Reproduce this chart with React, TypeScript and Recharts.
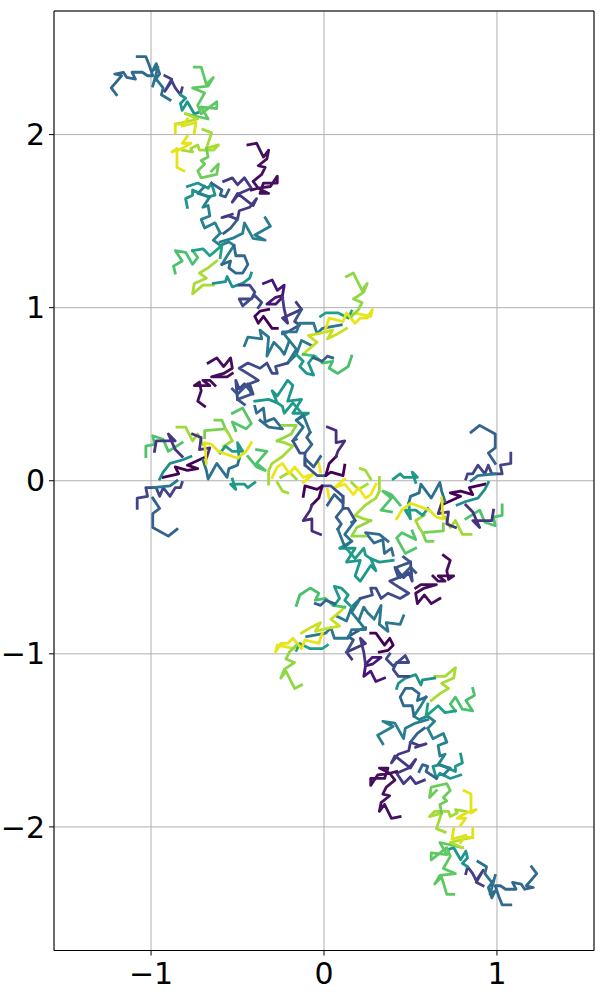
import { CartesianGrid, Line, LineChart, ReferenceLine, XAxis, YAxis } from "recharts"

const xTicks = [-1, 0, 1]
const yTicks = [-2, -1, 0, 1, 2]

// upper arm of the curve
const tailBlue = [[-1.2,2.23],[-1.23,2.27],[-1.17,2.34],[-1.21,2.35],[-1.16,2.36],[-1.14,2.33],[-1.09,2.32],[-1.11,2.36],[-1.05,2.36],[-1.02,2.34],[-0.99,2.34],[-1.01,2.4],[-1.03,2.45],[-1.08,2.45]]
const crownTeal = [[-0.99,2.28],[-0.96,2.39],[-0.99,2.37],[-0.97,2.41],[-0.95,2.35],[-0.98,2.31],[-0.97,2.32],[-0.93,2.27],[-0.94,2.23],[-0.89,2.2]]
const crownPurple = [[-0.92,2.34],[-0.88,2.32],[-0.92,2.25],[-0.88,2.31],[-0.86,2.27],[-0.83,2.23],[-0.82,2.27]]
const crownGreen = [[-0.83,2.23],[-0.8,2.21],[-0.83,2.18],[-0.82,2.14],[-0.79,2.19],[-0.75,2.12],[-0.72,2.13]]
const tipGreen = [[-0.75,2.39],[-0.71,2.39],[-0.68,2.29],[-0.64,2.33],[-0.67,2.28],[-0.76,2.27],[-0.69,2.24],[-0.73,2.17],[-0.71,2.12],[-0.62,2.19],[-0.62,2.15],[-0.71,2.16],[-0.67,2.09],[-0.8,2.12]]
const tipLime = [[-0.8,2.12],[-0.73,2.09],[-0.81,2.07],[-0.86,2.06]]
const tipYellow = [[-0.86,2.01],[-0.86,2.06],[-0.81,2.06],[-0.79,2.09]]
const tipYellowB = [[-0.75,2.01],[-0.74,2.07],[-0.82,2.05]]
const limeLower = [[-0.7,2.03],[-0.65,2.01],[-0.68,1.92],[-0.61,1.94],[-0.64,1.91],[-0.72,1.91],[-0.73,1.94],[-0.77,1.92],[-0.76,1.9],[-0.82,1.91]]
const yellowLower = [[-0.79,1.99],[-0.82,1.95],[-0.77,1.95],[-0.82,1.92],[-0.88,1.9],[-0.85,1.92],[-0.85,1.81],[-0.81,1.79]]
const greenLower = [[-0.68,1.92],[-0.67,1.87],[-0.71,1.85],[-0.69,1.83],[-0.73,1.79],[-0.71,1.75],[-0.62,1.77],[-0.61,1.83],[-0.65,1.79]]
const tealOne = [[-0.79,1.7],[-0.73,1.72],[-0.67,1.69],[-0.65,1.72],[-0.63,1.65],[-0.67,1.64],[-0.76,1.68],[-0.76,1.65],[-0.8,1.63],[-0.79,1.58]]
const tealTwo = [[-0.69,1.7],[-0.73,1.66],[-0.66,1.64],[-0.7,1.58],[-0.67,1.59],[-0.66,1.53],[-0.71,1.51],[-0.69,1.46],[-0.63,1.49],[-0.6,1.43]]
const blueBridge = [[-0.65,1.72],[-0.59,1.68],[-0.6,1.65],[-0.57,1.64],[-0.55,1.68]]
const indigoBridge = [[-0.58,1.73],[-0.53,1.75],[-0.5,1.71],[-0.46,1.75],[-0.42,1.69],[-0.49,1.66],[-0.53,1.61],[-0.5,1.66],[-0.41,1.59],[-0.39,1.63],[-0.43,1.58],[-0.49,1.56],[-0.5,1.51],[-0.55,1.53],[-0.59,1.52],[-0.53,1.54]]
const blueDrop = [[-0.5,1.51],[-0.54,1.46],[-0.58,1.43]]
const purpleTop = [[-0.44,1.94],[-0.39,1.95],[-0.35,1.87],[-0.32,1.91],[-0.33,1.86],[-0.38,1.82],[-0.34,1.81],[-0.36,1.77],[-0.41,1.73],[-0.38,1.69],[-0.31,1.7],[-0.27,1.76],[-0.27,1.72],[-0.35,1.72],[-0.37,1.66],[-0.32,1.66],[-0.38,1.69],[-0.42,1.68]]
const tealRight = [[-0.34,1.52],[-0.31,1.47],[-0.4,1.42],[-0.34,1.39],[-0.41,1.4],[-0.46,1.49],[-0.47,1.43],[-0.53,1.4],[-0.6,1.38]]
const linkTeal = [[-0.6,1.43],[-0.64,1.39],[-0.6,1.36],[-0.55,1.38],[-0.52,1.36],[-0.56,1.3],[-0.59,1.25]]
const greenWest = [[-0.86,1.2],[-0.87,1.24],[-0.82,1.27],[-0.86,1.33],[-0.8,1.32],[-0.76,1.25],[-0.73,1.29],[-0.76,1.33]]
const tealWest = [[-0.76,1.33],[-0.7,1.34],[-0.66,1.3],[-0.59,1.36],[-0.6,1.29]]
const blueWest = [[-0.59,1.25],[-0.54,1.27],[-0.55,1.23],[-0.51,1.2],[-0.47,1.2],[-0.44,1.25],[-0.46,1.3],[-0.51,1.3],[-0.52,1.36]]
const limeWest = [[-0.62,1.27],[-0.67,1.23],[-0.72,1.2],[-0.68,1.17],[-0.75,1.14],[-0.76,1.08],[-0.7,1.13],[-0.64,1.13]]
const tealNeck = [[-0.64,1.14],[-0.57,1.15],[-0.56,1.18],[-0.53,1.12],[-0.47,1.14],[-0.43,1.17],[-0.42,1.2]]
const blueNeck = [[-0.49,1.13],[-0.43,1.13],[-0.4,1.09],[-0.42,1.05],[-0.49,1.05],[-0.47,1.01],[-0.4,1.07],[-0.36,1.03],[-0.38,1]]
const purpleNeck = [[-0.35,1.14],[-0.3,1.16],[-0.27,1.1],[-0.23,1.13],[-0.24,1.07],[-0.28,1.06],[-0.33,1.02],[-0.28,1.02],[-0.24,1.06]]
const indigoNeck = [[-0.24,1.06],[-0.23,0.99],[-0.21,0.91],[-0.24,0.94],[-0.13,0.99],[-0.16,1.03]]
const purpleHook = [[-0.32,0.99],[-0.37,0.98],[-0.4,0.95],[-0.38,0.91],[-0.35,0.95],[-0.3,0.88],[-0.27,0.88]]
const blueHook = [[-0.13,0.99],[-0.17,0.92],[-0.14,0.9],[-0.21,0.86],[-0.24,0.85]]
const tealMid = [[-0.46,0.78],[-0.44,0.83],[-0.36,0.82],[-0.37,0.87],[-0.32,0.83],[-0.33,0.72],[-0.29,0.8],[-0.25,0.76],[-0.23,0.73],[-0.2,0.81],[-0.24,0.86],[-0.16,0.86],[-0.14,0.91],[-0.06,0.91],[-0.04,0.85],[-0.01,0.88],[0.1,0.9]]
const midLink = [[-0.2,0.81],[-0.16,0.76],[-0.21,0.68],[-0.16,0.73],[-0.13,0.81],[-0.07,0.78]]
const greenEast = [[-0.02,0.95],[0.01,0.97],[0.08,0.97],[0.14,0.94],[0.16,0.98]]
const yellowEast = [[0.01,0.88],[0.03,0.94],[0.11,0.92],[0.13,0.97],[0.18,0.91],[0.21,0.94],[0.25,0.94],[0.28,0.99],[0.27,0.95],[0.17,0.97]]
const limeTip = [[0.13,1.18],[0.17,1.2],[0.22,1.1],[0.25,1.14],[0.23,1.09],[0.17,1.05],[0.22,1.03],[0.2,0.99],[0.16,0.95]]
const limeLow = [[0.13,0.88],[0.08,0.85],[0.02,0.82],[0.05,0.87],[-0.03,0.85],[-0.09,0.84],[-0.04,0.8],[-0.1,0.75],[-0.12,0.73]]
const greenLow = [[-0.12,0.73],[-0.05,0.72],[-0.01,0.68],[0.05,0.69],[0.03,0.65],[0.08,0.62],[0.14,0.66],[0.16,0.72]]
const tealLow = [[-0.16,0.73],[-0.12,0.69],[-0.14,0.66],[-0.1,0.62],[-0.06,0.61],[-0.09,0.68],[-0.06,0.72]]
const blueLow = [[-0.06,0.71],[-0.01,0.69],[0.02,0.72],[0.05,0.71]]
const blueLeft = [[-0.21,0.68],[-0.28,0.66],[-0.27,0.62],[-0.3,0.62],[-0.33,0.68],[-0.37,0.65],[-0.44,0.68],[-0.49,0.65],[-0.41,0.6],[-0.38,0.58],[-0.43,0.56],[-0.41,0.5],[-0.46,0.56],[-0.49,0.53],[-0.51,0.58],[-0.5,0.47]]
const purpleLow = [[-0.67,0.68],[-0.62,0.71],[-0.58,0.66],[-0.54,0.71],[-0.53,0.65],[-0.58,0.62],[-0.65,0.6],[-0.56,0.6],[-0.53,0.62]]
const purpleEnd = [[-0.63,0.55],[-0.66,0.58],[-0.7,0.58],[-0.66,0.55],[-0.75,0.55],[-0.72,0.57],[-0.71,0.52],[-0.73,0.46],[-0.69,0.43]]
const blueCluster = [[-0.53,0.53],[-0.5,0.5],[-0.44,0.56],[-0.42,0.5],[-0.5,0.47],[-0.46,0.44]]
const tealCluster = [[-0.4,0.46],[-0.32,0.47],[-0.27,0.45],[-0.3,0.52],[-0.27,0.49],[-0.21,0.58],[-0.18,0.55],[-0.21,0.46],[-0.13,0.47],[-0.18,0.39],[-0.09,0.39],[-0.16,0.35]]
const blueKnot = [[-0.4,0.43],[-0.39,0.39],[-0.35,0.42],[-0.34,0.34],[-0.29,0.36],[-0.24,0.3],[-0.32,0.31],[-0.37,0.35]]
const tealKnot = [[-0.27,0.45],[-0.24,0.43],[-0.23,0.39],[-0.18,0.45],[-0.12,0.38]]
const greenArc = [[-0.53,0.39],[-0.47,0.42],[-0.42,0.33],[-0.45,0.3],[-0.53,0.34],[-0.51,0.29]]
const greenArcB = [[-0.63,0.35],[-0.59,0.35],[-0.57,0.3],[-0.69,0.29],[-0.69,0.25]]
const limeArc = [[-0.85,0.31],[-0.8,0.31],[-0.76,0.23],[-0.73,0.27],[-0.7,0.21]]
const limeArcB = [[-0.57,0.3],[-0.55,0.27],[-0.53,0.23],[-0.58,0.2]]
const greenFar = [[-1.03,0.14],[-1.03,0.2],[-0.98,0.21],[-0.99,0.26],[-0.93,0.24],[-0.9,0.17],[-0.82,0.22]]
const indigoFar = [[-0.98,0.17],[-0.97,0.23],[-0.86,0.23],[-0.9,0.27],[-0.86,0.18],[-0.82,0.14]]
const indigoFarB = [[-0.76,0.27],[-0.71,0.25],[-0.72,0.18],[-0.66,0.19],[-0.68,0.13]]
const darkFar = [[-0.68,0.14],[-0.79,0.09],[-0.73,0.07],[-0.79,0.06],[-0.86,0.08],[-0.84,0.04],[-0.93,0.02]]
const tealFar = [[-0.95,0.01],[-0.93,0.05],[-0.89,0.1],[-0.82,0.12],[-0.77,0.14]]
const indigoEdge = [[-1.08,-0.16],[-1.08,-0.1],[-1.02,-0.09],[-1.03,-0.04],[-0.97,-0.04],[-0.95,-0.09],[-0.93,-0.04],[-0.89,-0.09],[-0.86,-0.04],[-0.83,-0.04],[-0.82,-0.01]]
const blueEdge = [[-0.99,-0.1],[-0.95,-0.16],[-0.99,-0.19],[-0.99,-0.27],[-0.9,-0.32],[-0.85,-0.28]]
const tealEdge = [[-0.99,-0.04],[-0.89,-0.03],[-0.85,0]]
const tealSouth = [[-0.7,0.12],[-0.68,0.06],[-0.67,0.01],[-0.62,0.1],[-0.56,0.02],[-0.55,0.07],[-0.5,0.09],[-0.49,0.13]]
const tealSouthB = [[-0.49,0.13],[-0.5,0.22],[-0.47,0.17],[-0.53,0.17],[-0.57,0.2],[-0.6,0.16]]
const tealSouthC = [[-0.53,0.01],[-0.51,-0.05],[-0.54,-0.02],[-0.46,-0.02],[-0.44,-0.04],[-0.4,-0.01]]
const greenSouth = [[-0.44,0.14],[-0.39,0.08],[-0.34,0.06],[-0.39,0.1],[-0.33,0.17],[-0.39,0.18]]
const yellowSouth = [[-0.68,0.1],[-0.69,0.22],[-0.65,0.21],[-0.61,0.17],[-0.5,0.13],[-0.45,0.17],[-0.42,0.22]]
const limeCore = [[-0.27,0.23],[-0.23,0.22],[-0.18,0.2],[-0.24,0.14],[-0.3,0.1],[-0.32,0.06],[-0.32,-0.02]]
const limeCoreB = [[-0.27,-0.01],[-0.24,-0.06],[-0.21,-0.07]]
const limeCoreC = [[-0.25,0.02],[-0.2,0.05],[-0.16,0.01]]
const limeCoreD = [[-0.24,0.32],[-0.16,0.32],[-0.19,0.27],[-0.27,0.23]]
const yellowCore = [[-0.3,0.02],[-0.27,0.08],[-0.24,0.1],[-0.2,0.04],[-0.17,0.08],[-0.12,0.02],[-0.06,0.04],[-0.12,-0.01]]
const yellowCoreB = [[-0.03,0.1],[-0.02,0.05]]
const darkCore = [[-0.12,-0.09],[-0.11,-0.03],[-0.04,-0.05],[-0.01,-0.03],[-0.03,-0.1],[-0.07,-0.14]]
const indigoCore = [[-0.07,-0.14],[-0.08,-0.17],[-0.12,-0.23],[-0.07,-0.22],[-0.07,-0.29],[-0.02,-0.31]]
const blueCore = [[-0.11,0.09],[-0.11,0.13],[-0.06,0.08],[-0.02,0.14]]
const blueCoreB = [[-0.11,0.16],[-0.07,0.21],[-0.1,0.25],[-0.08,0.28]]
const tealCore = [[-0.16,0.24],[-0.18,0.23],[-0.12,0.31],[-0.16,0.35],[-0.12,0.38],[-0.08,0.28]]
const coreLink = [[-0.18,0.23],[-0.14,0.16],[-0.11,0.16],[-0.11,0.09],[-0.04,0.03],[0.01,0.03]]

// lower arm
const tailBlueB = [[1.2,-2.23],[1.23,-2.27],[1.17,-2.34],[1.21,-2.35],[1.16,-2.36],[1.14,-2.33],[1.09,-2.32],[1.11,-2.36],[1.05,-2.36],[1.02,-2.34],[0.99,-2.34],[1.01,-2.4],[1.03,-2.45],[1.08,-2.45]]
const crownTealB = [[0.99,-2.28],[0.96,-2.39],[0.99,-2.37],[0.97,-2.41],[0.95,-2.35],[0.98,-2.31],[0.97,-2.32],[0.93,-2.27],[0.94,-2.23],[0.89,-2.2]]
const crownPurpleB = [[0.92,-2.34],[0.88,-2.32],[0.92,-2.25],[0.88,-2.31],[0.86,-2.27],[0.83,-2.23],[0.82,-2.27]]
const crownGreenB = [[0.83,-2.23],[0.8,-2.21],[0.83,-2.18],[0.82,-2.14],[0.79,-2.19],[0.75,-2.12],[0.72,-2.13]]
const tipGreenB = [[0.75,-2.39],[0.71,-2.39],[0.68,-2.29],[0.64,-2.33],[0.67,-2.28],[0.76,-2.27],[0.69,-2.24],[0.73,-2.17],[0.71,-2.12],[0.62,-2.19],[0.62,-2.15],[0.71,-2.16],[0.67,-2.09],[0.8,-2.12]]
const tipLimeB = [[0.8,-2.12],[0.73,-2.09],[0.81,-2.07],[0.86,-2.06]]
const tipYellowC = [[0.86,-2.01],[0.86,-2.06],[0.81,-2.06],[0.79,-2.09]]
const tipYellowD = [[0.75,-2.01],[0.74,-2.07],[0.82,-2.05]]
const limeLowerB = [[0.7,-2.03],[0.65,-2.01],[0.68,-1.92],[0.61,-1.94],[0.64,-1.91],[0.72,-1.91],[0.73,-1.94],[0.77,-1.92],[0.76,-1.9],[0.82,-1.91]]
const yellowLowerB = [[0.79,-1.99],[0.82,-1.95],[0.77,-1.95],[0.82,-1.92],[0.88,-1.9],[0.85,-1.92],[0.85,-1.81],[0.81,-1.79]]
const greenLowerB = [[0.68,-1.92],[0.67,-1.87],[0.71,-1.85],[0.69,-1.83],[0.73,-1.79],[0.71,-1.75],[0.62,-1.77],[0.61,-1.83],[0.65,-1.79]]
const tealOneB = [[0.79,-1.7],[0.73,-1.72],[0.67,-1.69],[0.65,-1.72],[0.63,-1.65],[0.67,-1.64],[0.76,-1.68],[0.76,-1.65],[0.8,-1.63],[0.79,-1.58]]
const tealTwoB = [[0.69,-1.7],[0.73,-1.66],[0.66,-1.64],[0.7,-1.58],[0.67,-1.59],[0.66,-1.53],[0.71,-1.51],[0.69,-1.46],[0.63,-1.49],[0.6,-1.43]]
const blueBridgeB = [[0.65,-1.72],[0.59,-1.68],[0.6,-1.65],[0.57,-1.64],[0.55,-1.68]]
const indigoBridgeB = [[0.58,-1.73],[0.53,-1.75],[0.5,-1.71],[0.46,-1.75],[0.42,-1.69],[0.49,-1.66],[0.53,-1.61],[0.5,-1.66],[0.41,-1.59],[0.39,-1.63],[0.43,-1.58],[0.49,-1.56],[0.5,-1.51],[0.55,-1.53],[0.59,-1.52],[0.53,-1.54]]
const blueDropB = [[0.5,-1.51],[0.54,-1.46],[0.58,-1.43]]
const purpleTopB = [[0.44,-1.94],[0.39,-1.95],[0.35,-1.87],[0.32,-1.91],[0.33,-1.86],[0.38,-1.82],[0.34,-1.81],[0.36,-1.77],[0.41,-1.73],[0.38,-1.69],[0.31,-1.7],[0.27,-1.76],[0.27,-1.72],[0.35,-1.72],[0.37,-1.66],[0.32,-1.66],[0.38,-1.69],[0.42,-1.68]]
const tealRightB = [[0.34,-1.52],[0.31,-1.47],[0.4,-1.42],[0.34,-1.39],[0.41,-1.4],[0.46,-1.49],[0.47,-1.43],[0.53,-1.4],[0.6,-1.38]]
const linkTealB = [[0.6,-1.43],[0.64,-1.39],[0.6,-1.36],[0.55,-1.38],[0.52,-1.36],[0.56,-1.3],[0.59,-1.25]]
const greenWestB = [[0.86,-1.2],[0.87,-1.24],[0.82,-1.27],[0.86,-1.33],[0.8,-1.32],[0.76,-1.25],[0.73,-1.29],[0.76,-1.33]]
const tealWestB = [[0.76,-1.33],[0.7,-1.34],[0.66,-1.3],[0.59,-1.36],[0.6,-1.29]]
const blueWestB = [[0.59,-1.25],[0.54,-1.27],[0.55,-1.23],[0.51,-1.2],[0.47,-1.2],[0.44,-1.25],[0.46,-1.3],[0.51,-1.3],[0.52,-1.36]]
const limeWestB = [[0.62,-1.27],[0.67,-1.23],[0.72,-1.2],[0.68,-1.17],[0.75,-1.14],[0.76,-1.08],[0.7,-1.13],[0.64,-1.13]]
const tealNeckB = [[0.64,-1.14],[0.57,-1.15],[0.56,-1.18],[0.53,-1.12],[0.47,-1.14],[0.43,-1.17],[0.42,-1.2]]
const blueNeckB = [[0.49,-1.13],[0.43,-1.13],[0.4,-1.09],[0.42,-1.05],[0.49,-1.05],[0.47,-1.01],[0.4,-1.07],[0.36,-1.03],[0.38,-1]]
const purpleNeckB = [[0.35,-1.14],[0.3,-1.16],[0.27,-1.1],[0.23,-1.13],[0.24,-1.07],[0.28,-1.06],[0.33,-1.02],[0.28,-1.02],[0.24,-1.06]]
const indigoNeckB = [[0.24,-1.06],[0.23,-0.99],[0.21,-0.91],[0.24,-0.94],[0.13,-0.99],[0.16,-1.03]]
const purpleHookB = [[0.32,-0.99],[0.37,-0.98],[0.4,-0.95],[0.38,-0.91],[0.35,-0.95],[0.3,-0.88],[0.27,-0.88]]
const blueHookB = [[0.13,-0.99],[0.17,-0.92],[0.14,-0.9],[0.21,-0.86],[0.24,-0.85]]
const tealMidB = [[0.46,-0.78],[0.44,-0.83],[0.36,-0.82],[0.37,-0.87],[0.32,-0.83],[0.33,-0.72],[0.29,-0.8],[0.25,-0.76],[0.23,-0.73],[0.2,-0.81],[0.24,-0.86],[0.16,-0.86],[0.14,-0.91],[0.06,-0.91],[0.04,-0.85],[0.01,-0.88],[-0.1,-0.9]]
const midLinkB = [[0.2,-0.81],[0.16,-0.76],[0.21,-0.68],[0.16,-0.73],[0.13,-0.81],[0.07,-0.78]]
const greenEastB = [[0.02,-0.95],[-0.01,-0.97],[-0.08,-0.97],[-0.14,-0.94],[-0.16,-0.98]]
const yellowEastB = [[-0.01,-0.88],[-0.03,-0.94],[-0.11,-0.92],[-0.13,-0.97],[-0.18,-0.91],[-0.21,-0.94],[-0.25,-0.94],[-0.28,-0.99],[-0.27,-0.95],[-0.17,-0.97]]
const limeTipB = [[-0.13,-1.18],[-0.17,-1.2],[-0.22,-1.1],[-0.25,-1.14],[-0.23,-1.09],[-0.17,-1.05],[-0.22,-1.03],[-0.2,-0.99],[-0.16,-0.95]]
const limeLowB = [[-0.13,-0.88],[-0.08,-0.85],[-0.02,-0.82],[-0.05,-0.87],[0.03,-0.85],[0.09,-0.84],[0.04,-0.8],[0.1,-0.75],[0.12,-0.73]]
const greenLowB = [[0.12,-0.73],[0.05,-0.72],[0.01,-0.68],[-0.05,-0.69],[-0.03,-0.65],[-0.08,-0.62],[-0.14,-0.66],[-0.16,-0.72]]
const tealLowB = [[0.16,-0.73],[0.12,-0.69],[0.14,-0.66],[0.1,-0.62],[0.06,-0.61],[0.09,-0.68],[0.06,-0.72]]
const blueLowB = [[0.06,-0.71],[0.01,-0.69],[-0.02,-0.72],[-0.05,-0.71]]
const blueLeftB = [[0.21,-0.68],[0.28,-0.66],[0.27,-0.62],[0.3,-0.62],[0.33,-0.68],[0.37,-0.65],[0.44,-0.68],[0.49,-0.65],[0.41,-0.6],[0.38,-0.58],[0.43,-0.56],[0.41,-0.5],[0.46,-0.56],[0.49,-0.53],[0.51,-0.58],[0.5,-0.47]]
const purpleLowB = [[0.67,-0.68],[0.62,-0.71],[0.58,-0.66],[0.54,-0.71],[0.53,-0.65],[0.58,-0.62],[0.65,-0.6],[0.56,-0.6],[0.53,-0.62]]
const purpleEndB = [[0.63,-0.55],[0.66,-0.58],[0.7,-0.58],[0.66,-0.55],[0.75,-0.55],[0.72,-0.57],[0.71,-0.52],[0.73,-0.46],[0.69,-0.43]]
const blueClusterB = [[0.53,-0.53],[0.5,-0.5],[0.44,-0.56],[0.42,-0.5],[0.5,-0.47],[0.46,-0.44]]
const tealClusterB = [[0.4,-0.46],[0.32,-0.47],[0.27,-0.45],[0.3,-0.52],[0.27,-0.49],[0.21,-0.58],[0.18,-0.55],[0.21,-0.46],[0.13,-0.47],[0.18,-0.39],[0.09,-0.39],[0.16,-0.35]]
const blueKnotB = [[0.4,-0.43],[0.39,-0.39],[0.35,-0.42],[0.34,-0.34],[0.29,-0.36],[0.24,-0.3],[0.32,-0.31],[0.37,-0.35]]
const tealKnotB = [[0.27,-0.45],[0.24,-0.43],[0.23,-0.39],[0.18,-0.45],[0.12,-0.38]]
const greenArcC = [[0.53,-0.39],[0.47,-0.42],[0.42,-0.33],[0.45,-0.3],[0.53,-0.34],[0.51,-0.29]]
const greenArcD = [[0.63,-0.35],[0.59,-0.35],[0.57,-0.3],[0.69,-0.29],[0.69,-0.25]]
const limeArcC = [[0.85,-0.31],[0.8,-0.31],[0.76,-0.23],[0.73,-0.27],[0.7,-0.21]]
const limeArcD = [[0.57,-0.3],[0.55,-0.27],[0.53,-0.23],[0.58,-0.2]]
const greenFarB = [[1.03,-0.14],[1.03,-0.2],[0.98,-0.21],[0.99,-0.26],[0.93,-0.24],[0.9,-0.17],[0.82,-0.22]]
const indigoFarC = [[0.98,-0.17],[0.97,-0.23],[0.86,-0.23],[0.9,-0.27],[0.86,-0.18],[0.82,-0.14]]
const indigoFarD = [[0.76,-0.27],[0.71,-0.25],[0.72,-0.18],[0.66,-0.19],[0.68,-0.13]]
const darkFarB = [[0.68,-0.14],[0.79,-0.09],[0.73,-0.07],[0.79,-0.06],[0.86,-0.08],[0.84,-0.04],[0.93,-0.02]]
const tealFarB = [[0.95,-0.01],[0.93,-0.05],[0.89,-0.1],[0.82,-0.12],[0.77,-0.14]]
const indigoEdgeB = [[1.08,0.16],[1.08,0.1],[1.02,0.09],[1.03,0.04],[0.97,0.04],[0.95,0.09],[0.93,0.04],[0.89,0.09],[0.86,0.04],[0.83,0.04],[0.82,0.01]]
const blueEdgeB = [[0.99,0.1],[0.95,0.16],[0.99,0.19],[0.99,0.27],[0.9,0.32],[0.85,0.28]]
const tealEdgeB = [[0.99,0.04],[0.89,0.03],[0.85,0]]
const tealSouthD = [[0.7,-0.12],[0.68,-0.06],[0.67,-0.01],[0.62,-0.1],[0.56,-0.02],[0.55,-0.07],[0.5,-0.09],[0.49,-0.13]]
const tealSouthE = [[0.49,-0.13],[0.5,-0.22],[0.47,-0.17],[0.53,-0.17],[0.57,-0.2],[0.6,-0.16]]
const tealSouthF = [[0.53,-0.01],[0.51,0.05],[0.54,0.02],[0.46,0.02],[0.44,0.04],[0.4,0.01]]
const greenSouthB = [[0.44,-0.14],[0.39,-0.08],[0.34,-0.06],[0.39,-0.1],[0.33,-0.17],[0.39,-0.18]]
const yellowSouthB = [[0.68,-0.1],[0.69,-0.22],[0.65,-0.21],[0.61,-0.17],[0.5,-0.13],[0.45,-0.17],[0.42,-0.22]]
const limeCoreE = [[0.27,-0.23],[0.23,-0.22],[0.18,-0.2],[0.24,-0.14],[0.3,-0.1],[0.32,-0.06],[0.32,0.02]]
const limeCoreF = [[0.27,0.01],[0.24,0.06],[0.21,0.07]]
const limeCoreG = [[0.25,-0.02],[0.2,-0.05],[0.16,-0.01]]
const limeCoreH = [[0.24,-0.32],[0.16,-0.32],[0.19,-0.27],[0.27,-0.23]]
const yellowCoreC = [[0.3,-0.02],[0.27,-0.08],[0.24,-0.1],[0.2,-0.04],[0.17,-0.08],[0.12,-0.02],[0.06,-0.04],[0.12,0.01]]
const yellowCoreD = [[0.03,-0.1],[0.02,-0.05]]
const darkCoreB = [[0.12,0.09],[0.11,0.03],[0.04,0.05],[0.01,0.03],[0.03,0.1],[0.07,0.14]]
const indigoCoreB = [[0.07,0.14],[0.08,0.17],[0.12,0.23],[0.07,0.22],[0.07,0.29],[0.02,0.31]]
const blueCoreC = [[0.11,-0.09],[0.11,-0.13],[0.06,-0.08],[0.02,-0.14]]
const blueCoreD = [[0.11,-0.16],[0.07,-0.21],[0.1,-0.25],[0.08,-0.28]]
const tealCoreB = [[0.16,-0.24],[0.18,-0.23],[0.12,-0.31],[0.16,-0.35],[0.12,-0.38],[0.08,-0.28]]
const coreLinkB = [[0.18,-0.23],[0.14,-0.16],[0.11,-0.16],[0.11,-0.09],[0.04,-0.03],[-0.01,-0.03]]

// every strand with its colour off the viridis map
const strands: [number[][], string][] = [
  [tailBlue, "#31688e"], [tailBlueB, "#31688e"],
  [crownTeal, "#2c728e"], [crownTealB, "#2c728e"],
  [crownPurple, "#433e85"], [crownPurpleB, "#433e85"],
  [crownGreen, "#1f968b"], [crownGreenB, "#1f968b"],
  [tipGreen, "#5ec962"], [tipGreenB, "#5ec962"],
  [tipLime, "#b5de2b"], [tipLimeB, "#b5de2b"],
  [tipYellow, "#dde318"], [tipYellowC, "#dde318"],
  [tipYellowB, "#dde318"], [tipYellowD, "#dde318"],
  [limeLower, "#a5db36"], [limeLowerB, "#a5db36"],
  [yellowLower, "#e5e419"], [yellowLowerB, "#e5e419"],
  [greenLower, "#6ccd5a"], [greenLowerB, "#6ccd5a"],
  [tealOne, "#1f968b"], [tealOneB, "#1f968b"],
  [tealTwo, "#26828e"], [tealTwoB, "#26828e"],
  [blueBridge, "#33638d"], [blueBridgeB, "#33638d"],
  [indigoBridge, "#443a83"], [indigoBridgeB, "#443a83"],
  [blueDrop, "#355f8d"], [blueDropB, "#355f8d"],
  [purpleTop, "#450f5e"], [purpleTopB, "#450f5e"],
  [tealRight, "#277f8e"], [tealRightB, "#277f8e"],
  [linkTeal, "#26828e"], [linkTealB, "#26828e"],
  [greenWest, "#4ac16d"], [greenWestB, "#4ac16d"],
  [tealWest, "#1fa187"], [tealWestB, "#1fa187"],
  [blueWest, "#31688e"], [blueWestB, "#31688e"],
  [limeWest, "#a8db34"], [limeWestB, "#a8db34"],
  [tealNeck, "#1f948c"], [tealNeckB, "#1f948c"],
  [blueNeck, "#3e4989"], [blueNeckB, "#3e4989"],
  [purpleNeck, "#46157a"], [purpleNeckB, "#46157a"],
  [indigoNeck, "#443983"], [indigoNeckB, "#443983"],
  [purpleHook, "#440154"], [purpleHookB, "#440154"],
  [blueHook, "#3b528b"], [blueHookB, "#3b528b"],
  [tealMid, "#2a788e"], [tealMidB, "#2a788e"],
  [midLink, "#2a788e"], [midLinkB, "#2a788e"],
  [greenEast, "#1fa088"], [greenEastB, "#1fa088"],
  [yellowEast, "#e7e419"], [yellowEastB, "#e7e419"],
  [limeTip, "#8fd744"], [limeTipB, "#8fd744"],
  [limeLow, "#c8e020"], [limeLowB, "#c8e020"],
  [greenLow, "#48c16e"], [greenLowB, "#48c16e"],
  [tealLow, "#1f9a8a"], [tealLowB, "#1f9a8a"],
  [blueLow, "#35608d"], [blueLowB, "#35608d"],
  [blueLeft, "#3e4a89"], [blueLeftB, "#3e4a89"],
  [purpleLow, "#450c5c"], [purpleLowB, "#450c5c"],
  [purpleEnd, "#450c5c"], [purpleEndB, "#450c5c"],
  [blueCluster, "#3a548c"], [blueClusterB, "#3a548c"],
  [tealCluster, "#1f988b"], [tealClusterB, "#1f988b"],
  [blueKnot, "#2f6c8e"], [blueKnotB, "#2f6c8e"],
  [tealKnot, "#1e9b8a"], [tealKnotB, "#1e9b8a"],
  [greenArc, "#54c568"], [greenArcC, "#54c568"],
  [greenArcB, "#7ad151"], [greenArcD, "#7ad151"],
  [limeArc, "#a0da39"], [limeArcC, "#a0da39"],
  [limeArcB, "#a0da39"], [limeArcD, "#a0da39"],
  [greenFar, "#4ec36b"], [greenFarB, "#4ec36b"],
  [indigoFar, "#453581"], [indigoFarC, "#453581"],
  [indigoFarB, "#453581"], [indigoFarD, "#453581"],
  [darkFar, "#440154"], [darkFarB, "#440154"],
  [tealFar, "#218e8d"], [tealFarB, "#218e8d"],
  [indigoEdge, "#414487"], [indigoEdgeB, "#414487"],
  [blueEdge, "#33638d"], [blueEdgeB, "#33638d"],
  [tealEdge, "#2a788e"], [tealEdgeB, "#2a788e"],
  [tealSouth, "#2c728e"], [tealSouthD, "#2c728e"],
  [tealSouthB, "#1f9a8a"], [tealSouthE, "#1f9a8a"],
  [tealSouthC, "#1f9a8a"], [tealSouthF, "#1f9a8a"],
  [greenSouth, "#4ec36b"], [greenSouthB, "#4ec36b"],
  [yellowSouth, "#e5e419"], [yellowSouthB, "#e5e419"],
  [limeCore, "#a5db36"], [limeCoreE, "#a5db36"],
  [limeCoreB, "#a5db36"], [limeCoreF, "#a5db36"],
  [limeCoreC, "#a5db36"], [limeCoreG, "#a5db36"],
  [limeCoreD, "#90d743"], [limeCoreH, "#90d743"],
  [yellowCore, "#efe51c"], [yellowCoreC, "#efe51c"],
  [yellowCoreB, "#efe51c"], [yellowCoreD, "#efe51c"],
  [blueCore, "#33638d"], [blueCoreC, "#33638d"],
  [blueCoreB, "#33638d"], [blueCoreD, "#33638d"],
  [tealCore, "#2c728e"], [tealCoreB, "#2c728e"],
  [coreLink, "#3b528b"], [coreLinkB, "#3b528b"],
  [darkCore, "#440154"], [darkCoreB, "#440154"],
  [indigoCore, "#472d7b"], [indigoCoreB, "#472d7b"],
]

const fmt = (v: number) => String(v).replace("-", "\u2212")
const tickStyle = { fontSize: 30, fontFamily: "DejaVu Sans", fill: "#000" }

export default function App() {
  return (
    <div style={{ position: "absolute", left: 0, top: 0, width: 600, height: 1000, background: "#fff" }}>
      <LineChart width={600} height={1000} margin={{ top: 11, right: 6, bottom: 0, left: 0 }}>
        <CartesianGrid stroke="#b0b0b0" strokeWidth={1} />
        <XAxis
          type="number"
          dataKey="x"
          domain={[-1.561, 1.561]}
          ticks={xTicks}
          tickFormatter={fmt}
          height={49.5}
          tick={tickStyle}
          tickSize={5}
          tickMargin={7}
          stroke="#000"
          allowDataOverflow
        />
        <YAxis
          type="number"
          domain={[-2.714, 2.714]}
          ticks={yTicks}
          tickFormatter={fmt}
          width={54}
          tick={tickStyle}
          tickSize={5}
          tickMargin={4}
          stroke="#000"
          allowDataOverflow
        />
        <ReferenceLine x={1.561} stroke="#000" />
        <ReferenceLine y={2.714} stroke="#000" />
        {strands.map(([pts, color], i) => (
          <Line
            key={i}
            data={pts.map(([x, y]) => ({ x, y }))}
            dataKey="y"
            stroke={color}
            strokeWidth={2.8}
            strokeLinecap="square"
            strokeLinejoin="round"
            dot={false}
            legendType="none"
            isAnimationActive={false}
          />
        ))}
      </LineChart>
    </div>
  )
}
